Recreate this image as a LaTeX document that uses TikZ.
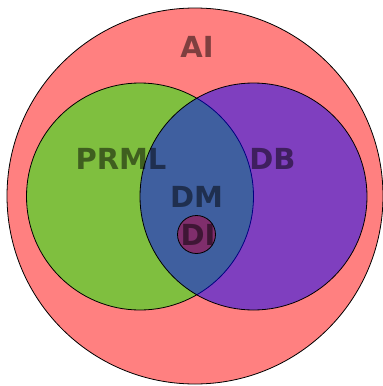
\documentclass[tikz,border=0pt]{standalone}
\usepackage{fontspec}
\setmainfont{DejaVu Sans}
\definecolor{dicol}{RGB}{128,46,108}
\begin{document}
\begin{tikzpicture}[x=1pt,y=-1pt,
  setline/.style={draw=black,line width=0.8pt},
  lbl/.style={font=\fontsize{29}{30}\selectfont\bfseries,text=black,text opacity=0.5,inner sep=0pt,anchor=center}]
\useasboundingbox (0,0) rectangle (383,386);
\fill[white] (0,0) rectangle (383,386);
\draw[setline,fill=red!50] (195,196) circle[radius=188pt];
\draw[setline,fill=green,fill opacity=0.5] (140,196.5) circle[radius=113.5pt];
\draw[setline,fill=blue,fill opacity=0.5] (253.5,196.5) circle[radius=113.5pt];
\draw[setline,fill=dicol] (196.5,234.5) circle[radius=19pt];
\node[lbl] (ai) at (197,47) {AI};
\node[lbl] (prml) at (121,159) {PRML};
\node[lbl] (db) at (272.5,159) {DB};
\node[lbl] (dm) at (196.5,197) {DM};
\node[lbl] (di) at (198,234.5) {DI};
\end{tikzpicture}
\end{document}
